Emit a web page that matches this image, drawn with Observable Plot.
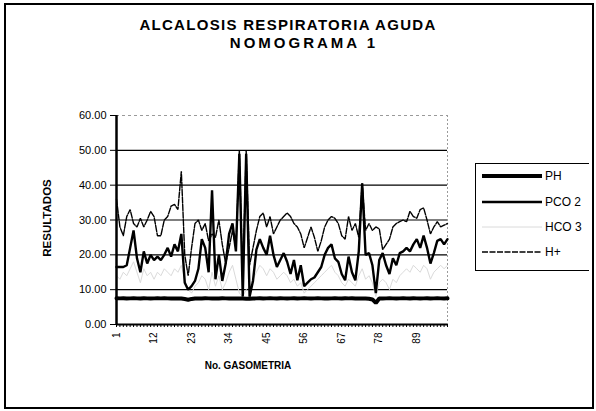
<!DOCTYPE html>
<html>
<head>
<meta charset="utf-8">
<script src="https://cdn.jsdelivr.net/npm/d3@7"></script>
<script src="https://cdn.jsdelivr.net/npm/@observablehq/plot@0.6"></script>
<style>
  body { margin: 0; background: #fff; }
  #wrap { position: relative; width: 596px; height: 411px; font-family: Arial, "Liberation Sans", sans-serif; color: #000; }
  #wrap > svg { position: absolute; left: 0; top: 0; }
  #frame { position: absolute; left: 4px; top: 3px; width: 586px; height: 402px; border: 2px solid #000; pointer-events: none; }
  .title { position: absolute; font-weight: bold; font-size: 15px; white-space: nowrap; transform: translateX(-50%); }
  #legend { position: absolute; left: 475px; top: 163px; width: 114px; height: 108px; border: 1px solid #000; border-right: none; box-sizing: border-box; }
  .lg { position: absolute; left: 6px; height: 14px; display: flex; align-items: center; font-size: 12px; white-space: nowrap; }
  .lg svg { margin-right: 3px; }
</style>
</head>
<body>
<div id="wrap">
  <div id="frame"></div>
  <div class="title" style="left:288px; top:16px; letter-spacing:1.3px;">ALCALOSIS RESPIRATORIA AGUDA</div>
  <div class="title" style="left:304px; top:34px; letter-spacing:3px;">NOMOGRAMA 1</div>
  <div id="legend"></div>
</div>
<script>
// ---- data ----
const seriesNames = ["PH", "PCO2", "HCO3", "H+"];

const ph = [
  7.52,7.50,7.51,7.49,7.50,7.52,7.50,7.48,7.51,7.50,7.49,7.50,7.51,7.50,7.52,7.50,7.49,7.50,7.48,7.45,
  7.30,7.10,7.35,7.48,7.50,7.49,7.51,7.50,7.48,7.50,7.49,7.51,7.50,7.48,7.50,7.49,7.47,7.45,7.40,7.42,
  7.48,7.50,7.51,7.49,7.50,7.52,7.50,7.49,7.51,7.50,7.48,7.50,7.51,7.49,7.50,7.52,7.50,7.49,7.50,7.51,
  7.50,7.49,7.48,7.50,7.51,7.50,7.49,7.52,7.50,7.51,7.49,7.50,7.48,7.47,7.40,7.20,6.20,7.45,7.49,7.50,
  7.51,7.50,7.49,7.50,7.52,7.50,7.49,7.51,7.50,7.48,7.50,7.51,7.49,7.50,7.52,7.50,7.49,7.51
];

const pco2 = [
  16.5,16.5,16.5,17,22,27,19,15,21,17.5,20,18.5,19.5,18.5,20,22,19.5,23,21,26,
  12,10,11,12.5,16,24.5,22,15,38.5,13,20,12.5,17.5,26,29,21,49,8,49,8,
  12.5,21.5,24.5,22,20,25.5,20,16.5,18.5,20.5,18,14.5,18.5,12.7,17,11,12,13,13.5,15,
  16.5,20,22,23,19,18,14.5,12.7,19.5,15,12.7,21,40.5,20,20.5,17,9,18.5,20.5,17,
  14.5,19,17,20.5,21,22,21,23,24.5,22,25.5,22,17.5,20.5,24,24.5,23,24.5
];

const hco3 = [
  14,13,15,14,16,18,15,12,16,14,15,13,15,14,16,15,14,16,15,17,
  13,10,9,11,12,14,13,10,15,11,14,10,12,15,17,13,9,8,10,11,
  13,15,17,16,14,16,15,13,14,15,14,12,13,11,12,9,10,11,12,13,
  14,15,16,17,15,14,12,11,13,12,11,14,16,13,14,12,8,12,13,12,
  10,13,12,14,15,16,15,17,16,15,17,16,13,15,16,17,16,17
];

const hplus = [
  36,28,25.5,31,33,29,28,30.5,28,30,32.5,31,25.5,25.5,30,31,34,34.5,33,44,
  20,14,22,29,30,27,29,24,26,25,30,23,17.5,22,27,22,50,12,50,17,
  22,27,31,32,28,31,26,28,30,31,32,31,29,28,26,22,25,28,25,21,
  24,28,30,31,30.5,29,25.5,24.5,31,27,29,25,40.5,27,29,27,28,27.5,21.5,23,
  24.5,28,29,29.5,30,29.5,32.5,31,30.5,33,33.5,30,26,28,29.5,28,28.5,29
];

const xTickLabels = [1, 12, 23, 34, 45, 56, 67, 78, 89];
const yTicks = [0, 10, 20, 30, 40, 50, 60];
const gridValues = [10, 20, 30, 40, 50];

// ---- build table ----
const idx = d3.range(1, ph.length + 1);
const rows = [];
const cols = {PH: ph, PCO2: pco2, HCO3: hco3, "H+": hplus};
for (const name of seriesNames) {
  cols[name].forEach((v, i) => rows.push({n: idx[i], v, s: name}));
}
const styles = {
  "PH":   {stroke: "#000", strokeWidth: 4, dash: null},
  "PCO2": {stroke: "#000", strokeWidth: 2.4, dash: null},
  "HCO3": {stroke: "#dadada", strokeWidth: 1, dash: null},
  "H+":   {stroke: "#000", strokeWidth: 1.4, dash: "6,1.5"}
};
const drawOrder = ["HCO3", "H+", "PCO2", "PH"];

const chart = Plot.plot({
  width: 596,
  height: 411,
  marginLeft: 116,
  marginRight: 149,
  marginTop: 115,
  marginBottom: 87,
  style: {fontFamily: "Arial, 'Liberation Sans', sans-serif", background: "transparent", color: "#000"},
  x: {domain: [1, ph.length], label: null},
  y: {domain: [0, 60], label: null},
  marks: [
    Plot.ruleY([60], {stroke: "#9a9a9a", strokeDasharray: "3,3"}),
    Plot.ruleX([ph.length], {stroke: "#9a9a9a", strokeDasharray: "2,2"}),
    Plot.ruleY(gridValues, {stroke: "#000", strokeWidth: 1.2}),
    ...drawOrder.map(name => Plot.line(rows.filter(d => d.s === name), {
      x: "n", y: "v",
      stroke: styles[name].stroke,
      strokeWidth: styles[name].strokeWidth,
      strokeDasharray: styles[name].dash,
      strokeLinejoin: "miter",
      curve: "linear"
    })),
    Plot.axisY(yTicks, {tickSize: 6, tickPadding: 4, tickFormat: d3.format(".2f"), fontSize: 11, label: null}),
    Plot.axisX(idx, {tickSize: 3, tickFormat: () => "", label: null}),
    Plot.axisX(xTickLabels, {tickSize: 0, tickPadding: 8, tickRotate: -90, fontSize: 10, label: null}),
    Plot.ruleX([1], {stroke: "#000", strokeWidth: 2.5}),
    Plot.ruleY([0], {stroke: "#000", strokeWidth: 2}),
    Plot.text(["RESULTADOS"], {frameAnchor: "left", textAnchor: "middle", rotate: -90, dx: -69, dy: -2, fontWeight: "bold", fontSize: 11.5, style: "letter-spacing:4px"}),
    Plot.text(["No. GASOMETRIA"], {frameAnchor: "bottom", textAnchor: "middle", dx: -34, dy: 44, fontWeight: "bold", fontSize: 10, style: "letter-spacing:2px"})
  ]
});
document.getElementById("wrap").prepend(chart);

// legend
const legend = d3.select("#legend");
const lgTops = {"PH": 12, "PCO2": 38, "HCO3": 63, "H+": 88};
for (const name of seriesNames) {
  const row = legend.append("div").attr("class", "lg").style("top", (lgTops[name] - 7) + "px");
  const sv = row.append("svg").attr("width", 60).attr("height", 14);
  sv.append("line").attr("x1", 0).attr("x2", 60).attr("y1", 7).attr("y2", 7)
    .attr("stroke", styles[name].stroke)
    .attr("stroke-width", styles[name].strokeWidth)
    .attr("stroke-dasharray", styles[name].dash);
  row.append("span").text(name === "PCO2" ? "PCO 2" : name === "HCO3" ? "HCO 3" : name);
}
</script>
</body>
</html>
